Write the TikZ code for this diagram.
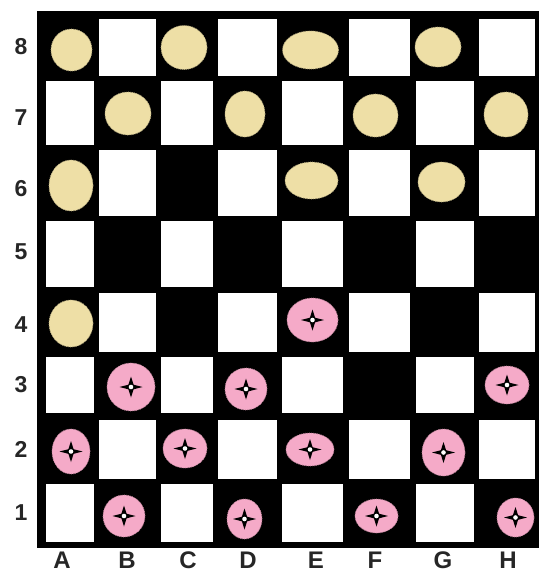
\documentclass[tikz,border=0pt]{standalone}
\usepackage{fontspec}
\setmainfont{Liberation Sans}
\definecolor{cream}{HTML}{EEDFA6}
\definecolor{pinkp}{HTML}{F5AAC8}
\begin{document}
\begin{tikzpicture}[x=1pt,y=-1pt,
  whitesq/.style={fill=white},
  creampiece/.style={fill=cream, draw=cream!75!black, line width=0.7pt, dash pattern=on 1pt off 1pt},
  pinkpiece/.style={fill=pinkp, draw=pinkp!75!black, line width=0.7pt, dash pattern=on 1pt off 1pt},
  rowlabel/.style={font=\fontsize{23}{26}\selectfont\bfseries, inner sep=0pt, text=black!85},
  collabel/.style={font=\fontsize{24}{26}\selectfont\bfseries, inner sep=0pt, anchor=base, text=black!85},
  checkerstar/.pic={
    \fill[black] (11.5,0) -- (2.6,2.3) -- (0,10.5) -- (-2.6,2.3) -- (-11.5,0) -- (-2.6,-2.3) -- (0,-10.5) -- (2.6,-2.3) -- cycle;
    \fill[white] (0,0) circle[radius=2.3pt];
  }]
\useasboundingbox (0,0) rectangle (539,574);
\fill[white] (0,0) rectangle (539,574);
% board
\fill[black] (37,11) rectangle (539,548);
% white squares
\foreach \ya/\yb in {19/76, 150/216, 293/352, 420/479}
  \foreach \xa/\xb in {99/156, 218/277, 349/410, 479/535}
    \fill[whitesq] (\xa,\ya) rectangle (\xb,\yb);
\foreach \ya/\yb in {81/145, 221/287, 357/413, 484/542}
  \foreach \xa/\xb in {46/94, 161/213, 282/343, 416/474}
    \fill[whitesq] (\xa,\ya) rectangle (\xb,\yb);
% cream pieces
\foreach \cx/\cy/\rx/\ry in {71.5/50/20.5/21, 184/47.5/23/22, 310.5/50/28/19, 438/47/23/20,
  128/113.5/23/21.5, 245/114/20/23, 375.5/115.5/22.5/21.5, 506/114.5/22/22.5,
  71/185.5/22/25.5, 311.5/180.5/26.5/18.5, 441.5/182/23.5/20, 71/323.5/22/23.5}
  \path[creampiece] (\cx,\cy) ellipse [x radius=\rx pt, y radius=\ry pt];
% pink pieces
\foreach \cx/\cy/\rx/\ry in {312.5/320/25.5/22, 131/387/24/24, 246/389/21/21, 507/385/22/19,
  71/451.5/19/22.5, 185/448.5/22/19.5, 310/449.5/24/16.5, 443.5/452.5/21.5/23.5,
  124/516/21/21, 244.5/519/17.5/20, 376.5/516/21.5/17, 515.5/517.5/18.5/19.5}
{
  \path[pinkpiece] (\cx,\cy) ellipse [x radius=\rx pt, y radius=\ry pt];
  \pic at (\cx,\cy) {checkerstar};
}
% row labels
\foreach \n/\yy in {8/47, 7/118, 6/189, 5/252, 4/325, 3/385, 2/449, 1/513}
  \node[rowlabel] (r\n) at (21,\yy) {\n};
% column labels
\foreach \l/\xx/\yy in {A/62/568, B/127/568, C/188/568, D/248/568, E/316/568, F/375/568, G/443/568, H/508/568}
  \node[collabel] (c\l) at (\xx,\yy) {\l};
\end{tikzpicture}
\end{document}
